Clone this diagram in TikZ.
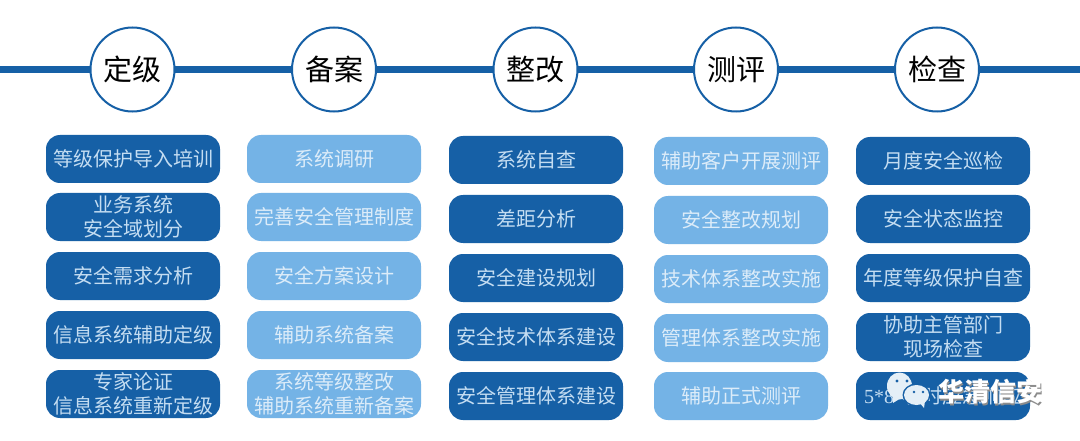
\documentclass[tikz,border=0pt]{standalone}
\usepackage{fontspec}
\setmainfont{Noto Sans CJK SC}
\newfontfamily\latinserif{Liberation Serif}
\definecolor{darkb}{HTML}{1660A6}
\definecolor{lightb}{HTML}{74B3E6}
\definecolor{txtd}{HTML}{C4DDF2}
\definecolor{txtl}{HTML}{DCECF9}
\definecolor{bub}{HTML}{E4EFF7}
\tikzset{x=1pt,y=-1pt,
 circ/.style={circle,draw=darkb,line width=2pt,fill=white,minimum size=84pt,inner sep=0pt,font=\fontsize{29}{29}\selectfont,text=black},
 boxbase/.style={rounded corners=14pt,minimum width=174pt,minimum height=48pt,inner sep=0pt,align=center,font=\fontsize{20}{24}\selectfont},
 dk/.style={boxbase,fill=darkb,text=txtd},
 lt/.style={boxbase,fill=lightb,text=txtl},
 wm/.style={font=\fontsize{26}{26}\selectfont\bfseries,text=white,inner sep=0pt}}
\begin{document}
\begin{tikzpicture}
\useasboundingbox (0,0) rectangle (1080,441);
\fill[white] (0,0) rectangle (1080,441);
\coordinate (L) at (0,70);
\coordinate (R) at (1080,70);
\draw[darkb,line width=7pt] (L) -- (R);
\node[circ] (c1) at (132.5,69.5) {定级};
\node[circ] (c2) at (334,69.5) {备案};
\node[circ] (c3) at (535.5,69.5) {整改};
\node[circ] (c4) at (736,69.5) {测评};
\node[circ] (c5) at (937,69.5) {检查};
% column 1
\node[dk] (a1) at (133,159) {等级保护导入培训};
\node[dk] (a2) at (133,217) {业务系统\\安全域划分};
\node[dk] (a3) at (133,276) {安全需求分析};
\node[dk] (a4) at (133,335) {信息系统辅助定级};
\node[dk] (a5) at (133,394) {专家论证\\信息系统重新定级};
% column 2
\node[lt] (b1) at (334,159) {系统调研};
\node[lt] (b2) at (334,217) {完善安全管理制度};
\node[lt] (b3) at (334,276) {安全方案设计};
\node[lt] (b4) at (334,335) {辅助系统备案};
\node[lt] (b5) at (334,394) {系统等级整改\\辅助系统重新备案};
% column 3
\node[dk] (d1) at (536,160) {系统自查};
\node[dk] (d2) at (536,219) {差距分析};
\node[dk] (d3) at (536,278) {安全建设规划};
\node[dk] (d4) at (536,337) {安全技术体系建设};
\node[dk] (d5) at (536,396) {安全管理体系建设};
% column 4
\node[lt] (e1) at (741,161) {辅助客户开展测评};
\node[lt] (e2) at (741,220) {安全整改规划};
\node[lt] (e3) at (741,279) {技术体系整改实施};
\node[lt] (e4) at (741,338) {管理体系整改实施};
\node[lt] (e5) at (741,396) {辅助正式测评};
% column 5
\node[dk] (f1) at (943,161) {月度安全巡检};
\node[dk] (f2) at (943,219) {安全状态监控};
\node[dk] (f3) at (943,278) {年度等级保护自查};
\node[dk] (f4) at (943,337) {协助主管部门\\现场检查};
\node[dk] (f5) at (943,396) {{\latinserif 5*8}\hspace{8pt}小时应急响应};
% watermark: icon
\fill[bub] (899.5,386) ellipse (12.5pt and 13.5pt);
\fill[bub] (893,395) -- (893,403) -- (901,398) -- cycle;
\fill[darkb] (897,381) circle (1.6pt) (907,381) circle (1.6pt);
\fill[darkb] (916.5,395) ellipse (14pt and 11.5pt);
\fill[bub] (916.5,395) ellipse (12.5pt and 10pt);
\fill[bub] (919,402) -- (924,408) -- (925,401) -- cycle;
\fill[darkb] (914,392) circle (1.4pt) (923,392) circle (1.4pt);
% watermark: text
\node[wm,text=black!45] (w2) at (991.5,393.5) {华清信安};
\node[wm] (w1) at (990.5,392) {华清信安};
\end{tikzpicture}
\end{document}
